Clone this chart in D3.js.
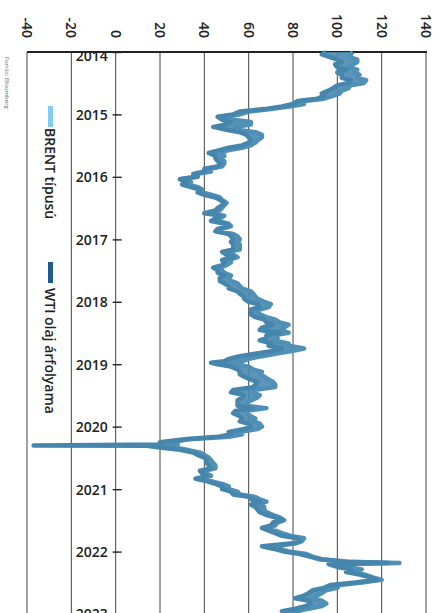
<!DOCTYPE html>
<html lang="hu">
<head>
<meta charset="UTF-8">
<title>BRENT és WTI olajár</title>
<script src="https://d3js.org/d3.v7.min.js"></script>
<style>
  body { margin: 0; background: #fff; }
  svg { display: block; font-family: 'Open Sans', sans-serif; }
  .grid { stroke: #444; stroke-width: 1; }
  .lbl { font-size: 14px; font-weight: 600; fill: #222; }
  .price { fill: none; stroke-width: 4.5; stroke-linejoin: round; }
</style>
</head>
<body>
<script>
// half-monthly readings (plus a few single days around the big moves)
var dates = [
  "2014-01-01","2014-01-15","2014-02-01","2014-02-15","2014-03-01","2014-03-15","2014-04-01","2014-04-15","2014-05-01","2014-05-15","2014-06-01","2014-06-15",
  "2014-07-01","2014-07-15","2014-08-01","2014-08-15","2014-09-01","2014-09-15","2014-10-01","2014-10-15","2014-11-01","2014-11-15","2014-12-01","2014-12-15",
  "2015-01-01","2015-01-15","2015-02-01","2015-02-15","2015-03-01","2015-03-15","2015-04-01","2015-04-15","2015-05-01","2015-05-15","2015-06-01","2015-06-15",
  "2015-07-01","2015-07-15","2015-08-01","2015-08-15","2015-09-01","2015-09-15","2015-10-01","2015-10-15","2015-11-01","2015-11-15","2015-12-01","2015-12-15",
  "2016-01-01","2016-01-15","2016-02-01","2016-02-15","2016-03-01","2016-03-15","2016-04-01","2016-04-15","2016-05-01","2016-05-15","2016-06-01","2016-06-15",
  "2016-07-01","2016-07-15","2016-08-01","2016-08-15","2016-09-01","2016-09-15","2016-10-01","2016-10-15","2016-11-01","2016-11-15","2016-12-01","2016-12-15",
  "2017-01-01","2017-01-15","2017-02-01","2017-02-15","2017-03-01","2017-03-15","2017-04-01","2017-04-15","2017-05-01","2017-05-15","2017-06-01","2017-06-15",
  "2017-07-01","2017-07-15","2017-08-01","2017-08-15","2017-09-01","2017-09-15","2017-10-01","2017-10-15","2017-11-01","2017-11-15","2017-12-01","2017-12-15",
  "2018-01-01","2018-01-15","2018-02-01","2018-02-15","2018-03-01","2018-03-15","2018-04-01","2018-04-15","2018-05-01","2018-05-15","2018-06-01","2018-06-15",
  "2018-07-01","2018-07-15","2018-08-01","2018-08-15","2018-09-01","2018-09-15","2018-10-01","2018-10-15","2018-11-01","2018-11-15","2018-12-01","2018-12-15","2018-12-24",
  "2019-01-01","2019-01-15","2019-02-01","2019-02-15","2019-03-01","2019-03-15","2019-04-01","2019-04-15","2019-05-01","2019-05-15","2019-06-01","2019-06-15",
  "2019-07-01","2019-07-15","2019-08-01","2019-08-15","2019-09-01","2019-09-15","2019-10-01","2019-10-15","2019-11-01","2019-11-15","2019-12-01","2019-12-15",
  "2020-01-01","2020-01-15","2020-02-01","2020-02-15","2020-03-01","2020-03-15","2020-04-01","2020-04-15","2020-04-20","2020-04-22","2020-05-01","2020-05-15","2020-06-01","2020-06-15",
  "2020-07-01","2020-07-15","2020-08-01","2020-08-15","2020-09-01","2020-09-15","2020-10-01","2020-10-15","2020-11-01","2020-11-15","2020-12-01","2020-12-15",
  "2021-01-01","2021-01-15","2021-02-01","2021-02-15","2021-03-01","2021-03-15","2021-04-01","2021-04-15","2021-05-01","2021-05-15","2021-06-01","2021-06-15",
  "2021-07-01","2021-07-15","2021-08-01","2021-08-15","2021-09-01","2021-09-15","2021-10-01","2021-10-15","2021-11-01","2021-11-15","2021-12-01","2021-12-15",
  "2022-01-01","2022-01-15","2022-02-01","2022-02-15","2022-03-01","2022-03-08","2022-03-15","2022-04-01","2022-04-15","2022-05-01","2022-05-15","2022-06-01","2022-06-15",
  "2022-07-01","2022-07-15","2022-08-01","2022-08-15","2022-09-01","2022-09-15","2022-10-01","2022-10-15","2022-11-01","2022-11-15","2022-12-01","2022-12-15",
  "2023-01-01","2023-01-15","2023-02-01"
];

var brent = [
  107,106,106,109,109,107,105,109,108,110,109,113,112,106,105,102,101,98,94,85,85,79,70,60,
  56,48,53,61,61,54,55,63,66,66,64,63,61,57,50,48,49,47,49,49,48,43,43,37,
  36,29,34,33,37,39,39,43,47,48,50,49,48,47,42,49,47,46,51,52,48,46,53,55,
  56,55,56,56,56,51,53,55,51,52,50,47,48,49,52,51,52,55,56,57,61,62,63,64,
  67,70,69,65,64,65,68,72,74,78,76,74,78,72,73,71,78,78,85,80,72,66,60,57,50,
  54,60,62,66,65,67,69,71,72,72,62,61,65,64,61,59,59,68,59,59,61,63,62,65,
  66,64,56,57,51,33,25,28,26,20,26,32,38,40,42,43,44,45,45,40,41,43,37,43,48,51,
  51,55,56,63,65,68,64,67,67,68,71,74,76,73,72,69,72,75,79,85,84,81,70,74,
  78,86,89,93,105,128,100,105,111,106,112,116,120,111,101,100,95,93,91,88,93,95,93,87,81,
  83,85,84
];

var wti = [
  95,93,97,100,102,99,100,104,100,102,102,106,105,100,98,96,93,94,91,82,80,75,67,56,
  53,46,48,52,50,44,50,56,59,60,61,60,57,51,46,42,45,45,46,47,46,40,40,35,
  37,29,32,30,34,38,37,40,45,47,49,48,46,45,40,47,45,43,49,51,46,45,51,52,
  53,52,53,53,53,48,50,53,48,49,48,44,46,46,49,47,47,49,51,51,55,56,58,58,
  60,64,65,61,61,61,63,67,68,71,66,65,74,68,68,65,70,69,75,71,63,56,51,49,43,
  46,52,55,56,56,58,61,64,63,62,53,52,58,57,55,55,55,62,54,53,56,57,56,60,
  61,58,51,52,46,31,20,20,-37,14,19,29,35,37,40,41,41,42,43,38,39,41,36,41,45,48,
  48,52,53,60,61,65,61,63,64,65,68,72,75,71,70,66,69,72,75,82,83,79,66,71,
  76,83,88,92,103,123,96,100,106,104,110,115,118,108,97,94,89,87,85,81,87,88,86,81,75,
  77,79,78
];

var valueTicks = [-40, -20, 0, 20, 40, 60, 80, 100, 120, 140];
var years = [2014, 2015, 2016, 2017, 2018, 2019, 2020, 2021, 2022, 2023];
var seriesNames = ["BRENT típusú", "WTI olaj árfolyama"];
var legendColors = ["#7fcdf2", "#1f5a8f"];
var source = "Forrás: Bloomberg";

var W = 442, H = 613;
var parse = d3.timeParse("%Y-%m-%d");
var rows = dates.map(function(d, i) { return { date: parse(d), brent: brent[i], wti: wti[i] }; });

var svg = d3.select("body").append("svg").attr("width", W).attr("height", H);

// the page is the chart turned a quarter-turn: value runs left→right, time top→bottom
var x = d3.scaleLinear().domain([-40, 140]).range([27, 426]);
var y = d3.scaleTime().domain([new Date(2014, 0, 1), new Date(2023, 0, 1)]).range([52, 614]);

// gridlines
svg.append("g").selectAll("line")
    .data(valueTicks)
    .join("line")
    .attr("class", "grid")
    .attr("x1", function(d) { return x(d); })
    .attr("x2", function(d) { return x(d); })
    .attr("y1", y.range()[0])
    .attr("y2", H)
    .attr("stroke", function(d) { return d === 0 ? "#222" : "#444"; })
    .attr("stroke-width", function(d) { return d === 0 ? 1.6 : (d === -40 ? 0.9 : 1.2); });

// top border (originally the left edge)
svg.append("line")
    .attr("x1", x(-40)).attr("x2", x(140) + 1)
    .attr("y1", y.range()[0]).attr("y2", y.range()[0])
    .attr("stroke", "#222").attr("stroke-width", 2);

// value labels, turned
svg.append("g").selectAll("text")
    .data(valueTicks)
    .join("text")
    .attr("class", "lbl")
    .attr("transform", function(d) { return "translate(" + x(d) + ",38) rotate(90)"; })
    .attr("text-anchor", "end")
    .attr("dy", "0.35em")
    .attr("fill", function(d) { return d === 0 ? "#c8c8c8" : "#222"; })
    .text(function(d) { return d; });

// year axis on the zero line
var yearAxis = d3.axisLeft(y)
    .tickValues(years.map(function(yr) { return new Date(yr, 0, 1); }))
    .tickFormat(d3.timeFormat("%Y"))
    .tickSizeInner(-6)
    .tickSizeOuter(0)
    .tickPadding(8);

var ga = svg.append("g")
    .attr("transform", "translate(" + x(0) + ",0)")
    .call(yearAxis);
ga.select(".domain").remove();
ga.selectAll(".tick line").attr("x1", -3).attr("stroke", "#222").attr("stroke-width", 1.4);
ga.selectAll(".tick text")
    .attr("class", "lbl")
    .style("font-family", "'Open Sans', sans-serif")
    .attr("dy", function(d, i) { return i === 0 ? "0.6em" : "0.35em"; });

// price lines; the gap between the two series is filled so they read as one band
var band = d3.area()
    .y(function(d) { return y(d.date); })
    .x0(function(d) { return x(d.wti); })
    .x1(function(d) { return x(d.brent); });
var lineB = d3.line().x(function(d) { return x(d.brent); }).y(function(d) { return y(d.date); });
var lineW = d3.line().x(function(d) { return x(d.wti); }).y(function(d) { return y(d.date); });

svg.append("path").datum(rows.filter(function(d) { return d.wti > 0; }))
    .attr("d", band).attr("fill", "#4a89af").attr("opacity", 0.9);
svg.append("path").datum(rows).attr("class", "price").attr("d", lineB).attr("stroke", "#5090b6");
svg.append("path").datum(rows).attr("class", "price").attr("d", lineW).attr("stroke", "#4686ad");

// legend
var legendY = [106, 262];
var legendTextY = [128, 288];
seriesNames.forEach(function(name, i) {
  svg.append("rect")
      .attr("x", 48).attr("y", legendY[i])
      .attr("width", 5).attr("height", 21)
      .attr("fill", legendColors[i]);
  svg.append("text")
      .attr("class", "lbl")
      .attr("font-size", 13)
      .attr("transform", "translate(45," + legendTextY[i] + ") rotate(90)")
      .text(name);
});

// source note
svg.append("text")
    .attr("transform", "translate(5,57) rotate(90)")
    .attr("font-size", 6)
    .attr("fill", "#666")
    .text(source);
</script>
</body>
</html>
